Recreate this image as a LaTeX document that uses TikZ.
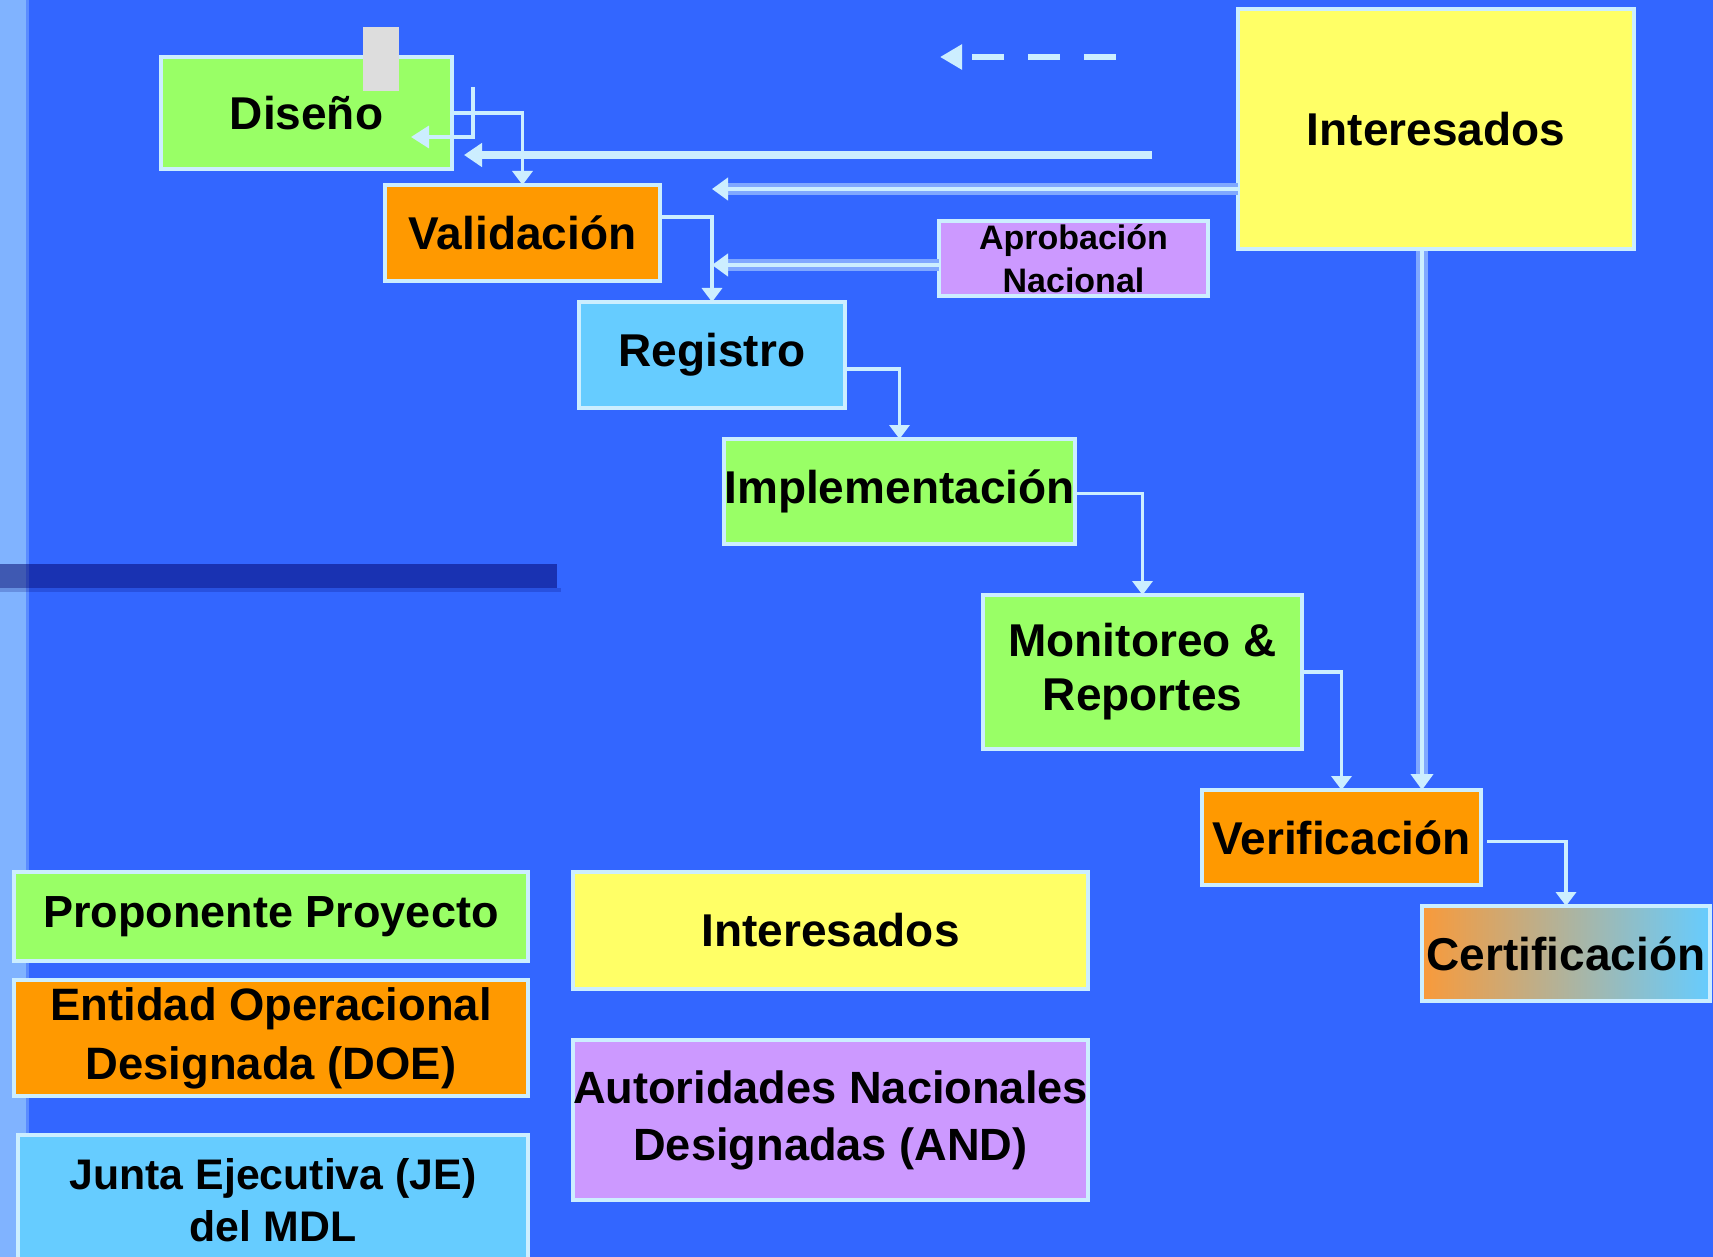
\documentclass[tikz,border=0pt]{standalone}
\usepackage{fontspec}
\setmainfont{Liberation Sans}
\usetikzlibrary{arrows.meta}

\definecolor{fondo}{HTML}{3366FF}
\definecolor{franja}{HTML}{80B3FF}
\definecolor{franjab}{HTML}{5A8CFF}
\definecolor{barra}{HTML}{000066}
\definecolor{linea}{HTML}{CCEEFF}
\definecolor{halo}{HTML}{80A8FF}
\definecolor{verde}{HTML}{99FF66}
\definecolor{naranja}{HTML}{FF9900}
\definecolor{celeste}{HTML}{66CCFF}
\definecolor{amarillo}{HTML}{FFFF66}
\definecolor{lila}{HTML}{CC99FF}
\definecolor{gris}{HTML}{DDDDDD}
\definecolor{certa}{HTML}{F99A3A}
\definecolor{certm}{HTML}{C8B0B4}

\begin{document}
\begin{tikzpicture}[x=0.5pt,y=-0.5pt]
\tikzset{ >={Triangle[length=7pt,width=10pt]}, inner sep=0pt, outer sep=0pt,
  caja/.style={draw=linea, line width=2pt, fill=#1, align=center,
    font=\bfseries\fontsize{23}{27}\selectfont},
  con/.style={draw=linea, line width=1.75pt, ->},
  con2/.style={draw=linea, line width=2.25pt, -{Triangle[length=8pt,width=11pt]},
    preaction={draw=halo, line width=6pt, -, shorten >=7pt}},
  gruesa/.style={draw=linea, line width=4pt, -{Triangle[length=9pt,width=11.5pt]}},
  discont/.style={draw=linea, line width=3pt, dash pattern=on 16pt off 12pt,
    -{Triangle[length=11pt,width=12pt]}},
}

\useasboundingbox (0,0) rectangle (1713,1257);
\clip (0,0) rectangle (1713,1257);

%\draw [lightgray, dashed](0,0) grid[step=100] (1713,1257);

% fondo
\fill [fondo] (0,0) rectangle (1713,1257);
\fill [franja] (0,0) rectangle (26,1257);
\fill [franjab] (26,0) rectangle (29,1257);
\fill [barra, opacity=0.5] (0,564) rectangle (557,588);
\fill [barra, opacity=0.2] (0,588) rectangle (561,592);

% etapas
\node [caja=verde, minimum width=145.5pt, minimum height=56pt] (dis) at (306.5,113) {Diseño};
\fill [gris] (363,27) rectangle (399,91);
\node [caja=naranja, minimum width=137.5pt, minimum height=48pt] (val) at (522.5,233) {Validación};
\node [caja=celeste, minimum width=133pt, minimum height=53pt] (reg) at (712,355) {Registro};
\node [caja=verde, minimum width=173.5pt, minimum height=52.5pt] (imp) at (899.5,491.5) {Implementación};
\node [caja=verde, minimum width=159.5pt, minimum height=77pt] (mon) at (1142.5,672) {Monitoreo \&\\Reportes};
\node [caja=naranja, minimum width=139.5pt, minimum height=47.5pt] (ver) at (1341.5,837.5) {Verificación};
\node [caja=celeste, left color=certa, middle color=certm, right color=celeste,
       minimum width=144pt, minimum height=47.5pt] (cer) at (1566,953.5) {Certificación};

\node [caja=amarillo, minimum width=198pt, minimum height=120pt] (int) at (1436,129) {Interesados};
\node [caja=lila, minimum width=134.5pt, minimum height=37.5pt,
       font=\bfseries\fontsize{17}{21.5}\selectfont] (apr) at (1073.5,258.5) {Aprobación\\Nacional};

% leyenda
\node [caja=verde, minimum width=257pt, minimum height=44.5pt,
       font=\bfseries\fontsize{22.5}{27}\selectfont] (lpro) at (271,916.5) {Proponente Proyecto};
\node [caja=naranja, minimum width=257pt, minimum height=58pt,
       font=\bfseries\fontsize{22.7}{29.5}\selectfont] (ldoe) at (271,1038) {Entidad Operacional\\Designada (DOE)};
\node [caja=celeste, minimum width=255pt, minimum height=65pt,
       font=\bfseries\fontsize{21.4}{26}\selectfont] (lje) at (273,1200) {Junta Ejecutiva (JE)\\del MDL};
\node [caja=amarillo, minimum width=257.5pt, minimum height=58.5pt] (lint) at (830.5,930.5) {Interesados};
\node [caja=lila, minimum width=257.5pt, minimum height=80pt,
       font=\bfseries\fontsize{22.6}{28.5}\selectfont] (land) at (830.5,1120) {Autoridades Nacionales\\Designadas (AND)};

% flujo
\draw [con] (dis.east) -| (val.north);
\draw [con] (val.east) ++(0,-16) -| (reg.north);
\draw [con] (reg.east) ++(0,14) -| (imp.north);
\draw [con] (imp.east) ++(0,2) -| (mon.north);
\draw [con] (mon.east) -| (ver.north);
\draw [con] (ver.east) ++(6,4) -| (cer.north);

% retornos
\coordinate (w1) at (473,87);
\coordinate (w2) at (411,137);
\draw [con, -{Triangle[length=9pt,width=11pt]}] (w1) |- (w2);

\coordinate (g1) at (1152,155);
\coordinate (g2) at (464,155);
\draw [gruesa] (g1) -- (g2);

\coordinate (p1) at (712,189);
\coordinate (p2) at (712,265);
\draw [con2] (int.west |- p1) -- (p1);
\draw [con2] (apr.west |- p2) -- (p2);

\coordinate (iv) at (1422,251);
\draw [con2] (iv) -- (iv |- ver.north);

\coordinate (t1) at (1116,57);
\coordinate (t2) at (940,57);
\draw [discont] (t1) -- (t2);

\end{tikzpicture}
\end{document}
